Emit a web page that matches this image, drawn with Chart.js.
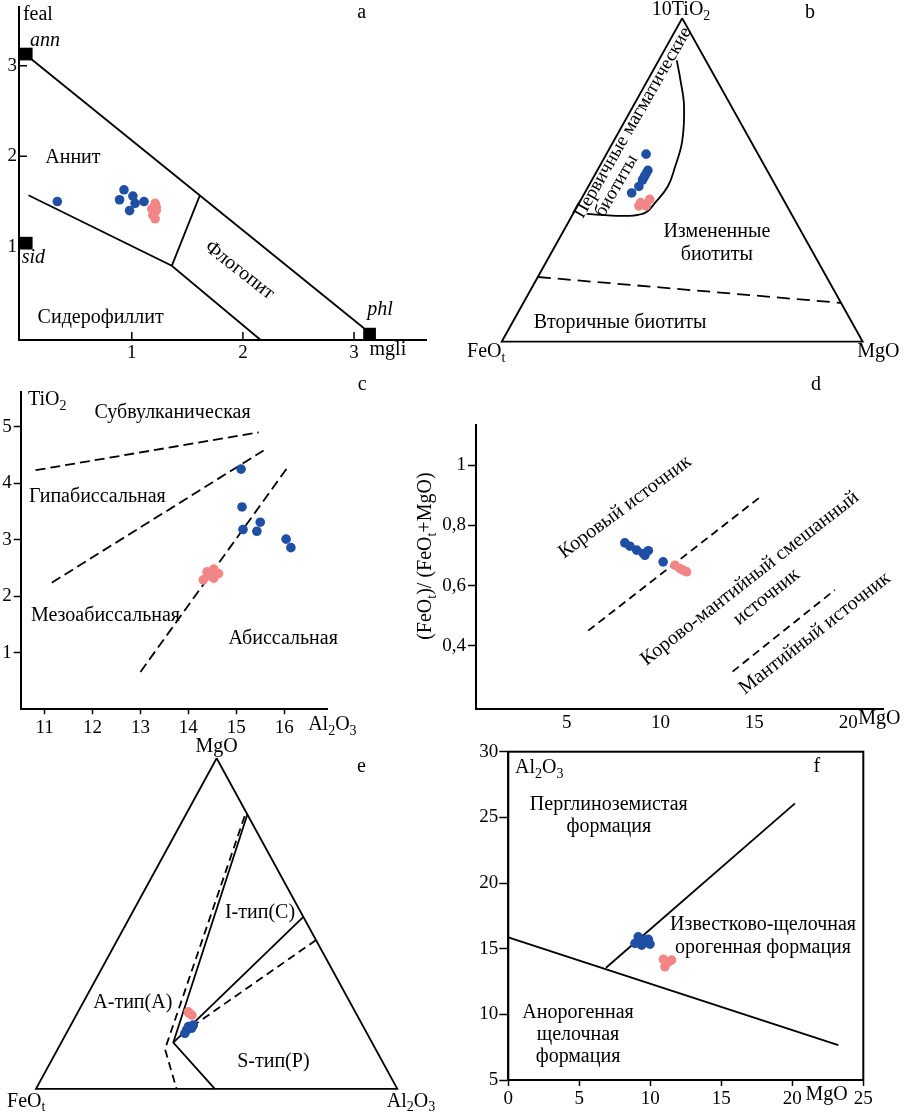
<!DOCTYPE html>
<html>
<head>
<meta charset="utf-8">
<title>Biotite diagrams</title>
<script src="https://cdn.jsdelivr.net/npm/chart.js"></script>
<style>
    html, body { margin: 0; padding: 0; background: #fff; }
    body { width: 907px; height: 1113px; position: relative; overflow: hidden; }
    canvas { position: absolute; }
</style>
</head>
<body>
<canvas id="a" width="450" height="390" style="left:0px;top:-20px"></canvas>
<canvas id="b" width="457" height="370" style="left:450px;top:0px"></canvas>
<canvas id="c" width="450" height="370" style="left:0px;top:370px"></canvas>
<canvas id="d" width="502" height="370" style="left:405px;top:370px"></canvas>
<canvas id="e" width="450" height="388" style="left:0px;top:725px"></canvas>
<canvas id="f" width="457" height="393" style="left:450px;top:720px"></canvas>
<script>
// ---- data ----
// a: feal vs mgli
const aBlue = [[0.33,1.50],[0.93,1.63],[0.89,1.52],[1.01,1.56],[1.03,1.48],[0.98,1.40],[1.11,1.50]];
const aPink = [[1.21,1.48],[1.18,1.42],[1.22,1.40],[1.19,1.35],[1.21,1.31],[1.22,1.44]];
const aEnds = [[0.05,3.13],[0.05,1.04],[3.14,0.035]];   // ann, sid, phl
const aUpper = [[0.10,3.07],[3.09,0.10]];
const aLower = [[0.07,1.57],[1.36,0.79],[2.16,-0.03]];
const aSplit = [[1.36,0.79],[1.61,1.56]];
const aTicks = [1, 2, 3];

// b: ternary 10TiO2 - FeOt - MgO, in % [TiO2, FeO, MgO]
const bBlue = [[58,31,11],[53,33,14],[52,34,14],[50,36,14],[48,38,14],[46,41,13],[51,35,14]];
const bPink = [[43,40,17],[44,37,19],[42,39,19],[42,41,17]];
const bPrimary = [[87,8,5],[81,10,9],[73,13,14],[62,19,19],[54,25,21],[48,30,22],[43,36,21],[40,40,20],[39,44,17],[39,50,11],[39.5,56.7,3.8]];
const bSecondary = [[20,80,0],[12,0,88]];

// c: TiO2 vs Al2O3
const cBlue = [[15.10,4.25],[15.12,3.58],[15.14,3.18],[15.50,3.31],[15.43,3.15],[16.04,3.01],[16.14,2.86]];
const cPink = [[14.31,2.29],[14.42,2.40],[14.53,2.48],[14.63,2.40],[14.53,2.32],[14.46,2.36],[14.39,2.43]];
const cLine1 = [[10.81,4.23],[15.47,4.90]];
const cLine2 = [[11.15,2.24],[15.57,4.58]];
const cLine3 = [[13.0,0.66],[16.07,4.28]];
const cTicksX = [11, 12, 13, 14, 15, 16];
const cTicksY = [1, 2, 3, 4, 5];

// d: FeOt/(FeOt+MgO) vs MgO
const dBlue = [[8.10,0.742],[8.37,0.731],[8.73,0.718],[9.08,0.707],[9.35,0.716],[9.17,0.701],[10.14,0.679]];
const dPink = [[10.77,0.668],[11.03,0.657],[11.39,0.646],[11.19,0.652]];
const dLine1 = [[6.15,0.451],[15.29,0.893]];
const dLine2 = [[13.84,0.315],[19.29,0.586]];
const dTicksX = [5, 10, 15, 20];
const dTicksY = [0.4, 0.6, 0.8, 1];
const dLabelsY = ['0,4', '0,6', '0,8', '1'];

// e: ternary MgO - FeOt - Al2O3, in % [MgO, FeO, Al2O3]
const eBlue = [[18.8,48.4,32.8],[18.3,47.8,33.9],[16.8,50.4,32.8],[19.3,46.8,33.9],[17.8,49.4,32.8]];
const ePink = [[23.3,46.2,30.5],[22.3,45.7,32.0],[22.9,46.2,30.9]];
const eSolid1 = [[83,0,17],[14,55,31],[0,50.5,49.5]];
const eSolid2 = [[52,0,48],[14,55,31]];
const eDash1 = [[82.5,1,16.5],[12,58.3,29.7],[0,61.1,38.9]];
const eDash2 = [[45,0,55],[16.3,52,31.7]];

// f: Al2O3 vs MgO
const fBlue = [[9.15,15.9],[9.39,15.27],[9.63,15.65],[9.98,15.35],[9.86,15.71],[8.92,15.4]];
const fPink = [[10.92,14.19],[11.27,14.0],[11.03,13.62],[11.5,14.13]];
const fLine1 = [[0,15.86],[23.24,7.66]];
const fLine2 = [[6.88,13.55],[20.19,26.06]];
const fTicksX = [0, 5, 10, 15, 20, 25];
const fTicksY = [5, 10, 15, 20, 25, 30];

const triangle = [[100,0,0],[0,100,0],[0,0,100],[100,0,0]];

// ---- helpers ----
const BLUE = '#1f4fa5', PINK = '#f28585', FONT = '"Liberation Serif"';
Chart.defaults.font.family = FONT;
Chart.defaults.font.size = 19;
Chart.defaults.color = '#000';

function tern(p) {
    const s = p[0] + p[1] + p[2];
    return [(p[2] + p[0] / 2) / s, p[0] / s];
}
function xy(arr) { return arr.map(p => ({ x: p[0], y: p[1] })); }

function dots(arr, color) {
    return { data: xy(arr), backgroundColor: color, borderWidth: 0, pointRadius: 4.8, clip: false };
}
function line(arr, dash, tension) {
    return { data: xy(arr), showLine: true, borderColor: '#000', borderWidth: 1.8,
             borderDash: dash || [], pointRadius: 0, tension: tension || 0, clip: false };
}

function axis(min, max, ticks, labels, o) {
    return {
        type: 'linear', min: min, max: max,
        afterBuildTicks: s => { s.ticks = ticks.map(v => ({ value: v })); },
        afterFit: s => { if (o.w != null) s.width = o.w; if (o.h != null) s.height = o.h; },
        ticks: { autoSkip: false, maxRotation: 0, padding: o.pad, color: '#000',
                 callback: (v) => { const i = ticks.indexOf(v); return i < 0 ? '' : labels[i]; } },
        grid: { display: true, drawOnChartArea: false, drawTicks: o.tick > 0, tickLength: o.tick || 0,
                color: '#000', tickWidth: 1.5 },
        border: { display: true, color: '#000', width: 2 }
    };
}
function hidden() { return { type: 'linear', min: 0, max: 1, display: false }; }

// text with "_x" subscripts
function drawRich(ctx, item, px, py) {
    const size = item.s || 20;
    const st = item.it ? 'italic ' : '';
    const big = st + size + 'px ' + FONT, small = st + Math.round(size * 0.72) + 'px ' + FONT;
    const segs = [];
    let cur = '';
    for (let i = 0; i < item.t.length; i++) {
        if (item.t[i] === '_') { if (cur) segs.push({ s: cur, sub: false }); cur = ''; segs.push({ s: item.t[i + 1], sub: true }); i++; }
        else cur += item.t[i];
    }
    if (cur) segs.push({ s: cur, sub: false });
    let w = 0;
    segs.forEach(g => { ctx.font = g.sub ? small : big; g.w = ctx.measureText(g.s).width; w += g.w; });
    ctx.save();
    ctx.translate(px, py);
    ctx.rotate((item.r || 0) * Math.PI / 180);
    ctx.textBaseline = 'middle';
    ctx.fillStyle = '#000';
    let x = item.a === 'left' ? 0 : (item.a === 'right' ? -w : -w / 2);
    segs.forEach(g => { ctx.font = g.sub ? small : big; ctx.fillText(g.s, x, g.sub ? size * 0.3 : 0); x += g.w; });
    ctx.restore();
}

const texts = {
    id: 'texts',
    afterDraw(chart, args, opts) {
        const ctx = chart.ctx, sx = chart.scales.x, sy = chart.scales.y;
        (opts.items || []).forEach(it => drawRich(ctx, it, sx.getPixelForValue(it.x), sy.getPixelForValue(it.y)));
    }
};
const extras = {
    id: 'extras',
    afterDraw(chart, args, opts) {
        const ctx = chart.ctx, ca = chart.chartArea;
        ctx.save();
        ctx.strokeStyle = '#000';
        if (opts.frame) { ctx.lineWidth = 2; ctx.strokeRect(ca.left, ca.top, ca.right - ca.left, ca.bottom - ca.top); }
        if (opts.inner) {
            ctx.lineWidth = 1.5;
            ctx.beginPath();
            chart.scales.x.ticks.forEach(t => { const p = chart.scales.x.getPixelForValue(t.value); ctx.moveTo(p, ca.bottom); ctx.lineTo(p, ca.bottom - opts.inner); });
            chart.scales.y.ticks.forEach(t => { const p = chart.scales.y.getPixelForValue(t.value); ctx.moveTo(ca.left, p); ctx.lineTo(ca.left + opts.inner, p); });
            ctx.stroke();
        }
        ctx.restore();
    }
};

function make(id, datasets, scales, padding, items, ex) {
    new Chart(document.getElementById(id), {
        type: 'scatter',
        data: { datasets: datasets },
        options: {
            responsive: false, animation: false, devicePixelRatio: 1, events: [],
            layout: { padding: padding },
            scales: scales,
            plugins: { legend: { display: false }, tooltip: { enabled: false },
                       texts: { items: items }, extras: ex || {} }
        },
        plugins: [texts, extras]
    });
}

// ---- a ----
make('a', [
    dots(aPink, PINK), dots(aBlue, BLUE),
    { data: xy(aEnds), backgroundColor: '#000', borderWidth: 0, pointStyle: 'rect', pointRadius: 9, clip: false },
    line(aUpper), line(aLower), line(aSplit)
], {
    x: axis(-0.015, 3.648, aTicks, aTicks.map(String), { h: 30, tick: 0, pad: 2 }),
    y: axis(-0.03, 3.65, aTicks, aTicks.map(String), { w: 19, tick: 0, pad: 2 })
}, { left: 0, top: 27, right: 24, bottom: 0 }, [
    { t: 'feal', x: 0.02, y: 3.56, a: 'left' },
    { t: 'a', x: 3.07, y: 3.59 },
    { t: 'ann', x: 0.085, y: 3.28, a: 'left', it: true },
    { t: 'sid', x: 0.01, y: 0.875, a: 'left', it: true },
    { t: 'phl', x: 3.12, y: 0.30, a: 'left', it: true },
    { t: 'mgli', x: 3.14, y: -0.14, a: 'left' },
    { t: 'Аннит', x: 0.47, y: 1.98 },
    { t: 'Сидерофиллит', x: 0.72, y: 0.22 },
    { t: 'Флогопит', x: 1.97, y: 0.74, r: 38 }
], { inner: 8 });

// ---- b ----
make('b', [
    dots(bPink.map(tern), PINK), dots(bBlue.map(tern), BLUE),
    line(triangle.map(tern)), line(bPrimary.map(tern), null, 0.4), line(bSecondary.map(tern), [13, 7])
], { x: hidden(), y: hidden() },
{ left: 51.7, top: 18.3, right: 44.3, bottom: 28.3 }, [
    { t: '10TiO_2', x: 0.497, y: 1.026 },
    { t: 'b', x: 0.854, y: 1.016 },
    { t: 'FeO_t', x: -0.096, y: -0.032, a: 'left' },
    { t: 'MgO', x: 0.985, y: -0.032, a: 'left' },
    { t: 'Первичные магматические', x: 0.363, y: 0.677, r: -60, s: 19 },
    { t: 'биотиты', x: 0.318, y: 0.482, r: -60, s: 19 },
    { t: 'Измененные', x: 0.596, y: 0.339 },
    { t: 'биотиты', x: 0.596, y: 0.268 },
    { t: 'Вторичные биотиты', x: 0.328, y: 0.058 }
]);

// ---- c ----
make('c', [
    dots(cPink, PINK), dots(cBlue, BLUE),
    line(cLine1, [10, 5]), line(cLine2, [10, 5]), line(cLine3, [10, 5])
], {
    x: axis(10.5, 16.9, cTicksX, cTicksX.map(String), { h: 30.8, tick: 5, pad: 2 }),
    y: axis(0, 5.62, cTicksY, cTicksY.map(String), { w: 20.7, tick: 7, pad: 2 })
}, { left: 0, top: 21.7, right: 122.7, bottom: 0 }, [
    { t: 'TiO_2', x: 10.65, y: 5.47, a: 'left' },
    { t: 'c', x: 17.63, y: 5.74 },
    { t: 'Субвулканическая', x: 13.67, y: 5.24 },
    { t: 'Гипабиссальная', x: 12.10, y: 3.76 },
    { t: 'Мезоабиссальная', x: 12.27, y: 1.65 },
    { t: 'Абиссальная', x: 15.98, y: 1.24 },
    { t: 'Al_2O_3', x: 16.5, y: -0.28, a: 'left' }
]);

// ---- d ----
make('d', [
    dots(dPink, PINK), dots(dBlue, BLUE),
    line(dLine1, [8, 5]), line(dLine2, [8, 5])
], {
    x: axis(0.17, 21.87, dTicksX, dTicksX.map(String), { h: 30.7, tick: 0, pad: 2 }),
    y: axis(0.19, 1.133, dTicksY, dLabelsY, { w: 71, tick: 8, pad: 2 })
}, { left: 0, top: 55, right: 23.7, bottom: 0 }, [
    { t: 'd', x: 18.28, y: 1.265 },
    { t: '(FeO_t)/ (FeO_t+MgO)', x: -2.49, y: 0.698, r: -90 },
    { t: 'Коровый источник', x: 8.11, y: 0.861, r: -36.5 },
    { t: 'Корово-мантийный смешанный', x: 14.76, y: 0.624, r: -38 },
    { t: 'источник', x: 15.65, y: 0.563, r: -38.5 },
    { t: 'Мантийный источник', x: 18.22, y: 0.442, r: -38 },
    { t: 'MgO', x: 20.53, y: 0.16, a: 'left' }
]);

// ---- e ----
make('e', [
    dots(ePink.map(tern), PINK), dots(eBlue.map(tern), BLUE),
    line(triangle.map(tern)), line(eSolid1.map(tern)), line(eSolid2.map(tern)),
    line(eDash1.map(tern), [8, 5]), line(eDash2.map(tern), [8, 5])
], { x: hidden(), y: hidden() },
{ left: 36, top: 33.3, right: 52.7, bottom: 24.2 }, [
    { t: 'MgO', x: 0.5, y: 1.035 },
    { t: 'e', x: 0.901, y: 0.975 },
    { t: 'FeO_t', x: -0.08, y: -0.039, a: 'left' },
    { t: 'Al_2O_3', x: 0.971, y: -0.039, a: 'left' },
    { t: 'I-тип(C)', x: 0.62, y: 0.532 },
    { t: 'A-тип(A)', x: 0.268, y: 0.26 },
    { t: 'S-тип(P)', x: 0.657, y: 0.082 }
]);

// ---- f ----
make('f', [
    dots(fPink, PINK), dots(fBlue, BLUE),
    line(fLine1), line(fLine2)
], {
    x: axis(0, 25, fTicksX, fTicksX.map(String), { h: 33, tick: 6, pad: 2 }),
    y: axis(5, 30, fTicksY, fTicksY.map(String), { w: 58.3, tick: 9, pad: 1 })
}, { left: 0, top: 31.7, right: 43.7, bottom: 0 }, [
    { t: 'Al_2O_3', x: 0.47, y: 28.76, a: 'left' },
    { t: 'f', x: 21.73, y: 28.84 },
    { t: 'Перглиноземистая', x: 7.08, y: 25.94 },
    { t: 'формация', x: 7.08, y: 24.27 },
    { t: 'Известково-щелочная', x: 17.94, y: 16.80 },
    { t: 'орогенная формация', x: 17.94, y: 15.05 },
    { t: 'Анорогенная', x: 4.91, y: 10.10 },
    { t: 'щелочная', x: 4.91, y: 8.43 },
    { t: 'формация', x: 4.91, y: 6.75 },
    { t: 'MgO', x: 20.93, y: 3.86, a: 'left' }
], { frame: true });
</script>
</body>
</html>
